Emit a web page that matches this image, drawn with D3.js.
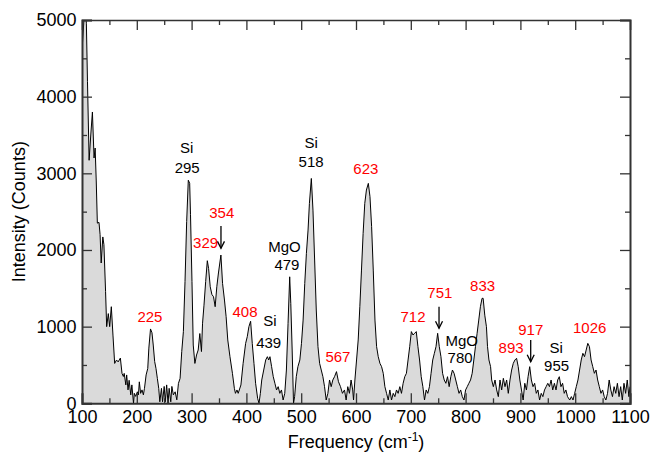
<!DOCTYPE html>
<html>
<head>
<meta charset="utf-8">
<script src="https://cdn.jsdelivr.net/npm/d3@7"></script>
<style>
  body { margin: 0; background: #fff; }
  svg text { font-family: "Liberation Sans", Arial, Helvetica, sans-serif; }
</style>
</head>
<body>
<div id="chart"></div>
<script>
// spektrum (frekvens cm-1, intensitet)
var freq = [100,104,106,108,110,113,116,119,122,124,126,128,131,133,135,138,140,143,145,148,150.5,153.5,156.5,159.6,163,166,170,173,175.5,177,180,181.5,184,186,189,191,194,195.5,198,201,203,204.6,207,209.5,212,214,217,220,222,225,227.7,230,232.6,235,237.5,240,242,245,247,250,252,254.5,257,259,262,264,266.7,270,273,276,279,282,285,288,291,294,296.5,298,300.7,303,306,309,312,315,318,320,322.6,325.7,328.7,331,334,337,340,343,346,349,353.5,356.5,360,363,366,370,374.5,378,380,382.8,385,390,394,398.6,401.6,404.6,407.7,410.7,413.8,416.8,420.5,423,425.5,428,431.6,435.2,438.3,440.7,443,446,449,452,455,458,461,464,467,470,473,476,479,481,483.5,486,488,491,494,497.5,500.5,503.5,506.5,509.5,512.5,515,518.5,521.5,524.5,527.5,530.6,533.6,536.6,539.6,542.6,545.6,548.7,551.7,554.7,557.7,560.8,564.4,568,571.7,575.3,579,582,585,588,591,594,595.5,598,601,604,607,610,613,616,619,622.5,625.5,628.5,631.5,634.6,637.6,640.6,643.7,646.7,649.7,652.7,655.8,658.8,661.8,664.8,667.9,670.9,673.9,676.9,680,683,686,689,692,695,698,701,704,707,710,713,716,719,722,725,728,731,734,737,740,743,746,749,752,755,758,761,764,767,770,773,776,779,782,785,788,791,794,797,800,803,806,809,812,815,818,821,824,827,830,832,835,838,840,842.6,845.6,847.6,850.6,853.7,856.7,859.7,862.8,865.8,868.9,871.9,874.9,877.9,881,884,887,890,893,896,899,902,905,908,911,914,917,920,923,926,929,932,935,938,941,944,947,950,953,956,959,962,965,968,971,974,977,980,983,986,990,993,996,999,1002,1005,1008,1011,1014,1017,1020,1023,1026,1029,1032,1035,1038,1041,1044,1047,1050,1053,1056,1059,1062,1065,1068,1071,1074,1077,1080,1083,1086,1089,1092,1095,1098,1100];
var counts = [4600,5050,5300,4950,4200,3170,3500,3800,3200,3330,2900,2350,2360,2200,1830,2170,2070,1460,1000,1170,1000,1260,890,520,565,540,590,390,350,390,240,370,175,300,110,240,0,130,90,150,110,280,130,175,110,195,370,455,720,970,920,760,545,455,325,195,20,195,20,220,20,240,0,195,20,220,110,150,45,260,325,675,935,1590,2370,2910,2870,2460,1590,760,520,630,695,910,675,1045,1280,1590,1860,1760,1520,1420,1390,1260,1520,1700,1934,1564,1347,1130,826,608,391,196,130,174,130,239,521,782,869,1000,1070,782,521,261,65,0,130,304,434,565,608,565,608,478,347,261,174,217,130,174,43,130,434,1043,1650,1304,695,0,87,347,478,565,782,1086,1564,1956,2260,2608,2933,2520,1869,1217,739,521,434,347,217,43,130,304,217,304,347,413,282,217,130,174,43,217,130,304,174,43,304,565,826,1260,1738,2216,2608,2782,2869,2695,2304,1738,1086,739,608,521,478,391,217,130,43,174,43,130,87,174,130,217,130,261,347,391,565,739,935,891,913,935,739,565,347,217,43,174,130,217,391,565,652,739,913,739,608,391,304,261,347,217,347,434,391,304,217,130,174,87,43,174,217,261,304,391,565,739,913,1086,1260,1369,1370,1150,999,739,565,478,304,217,304,174,87,304,174,326,217,304,130,304,434,521,565,587,478,304,174,43,261,174,347,478,304,217,261,130,174,43,130,87,174,217,261,217,304,174,261,174,304,347,217,261,130,174,87,43,87,43,130,217,304,434,565,652,608,695,782,739,565,478,391,434,304,217,130,174,87,43,130,304,174,87,217,130,261,87,217,43,261,130,304,87,217];

// toppetiketter: text, frekvens, nivå, röd?
var labelText = ["Si","295","354","329","225","MgO","479","Si","518","623","408","Si","439","567","712","751","MgO","780","833","893","917","Si","955","1026"];
var labelFreq = [291,292,355,325.5,224,469.5,474,518,518,618,397.5,443,440.7,567,704,753,793,790,831,883,919,965.5,966,1026.5];
var labelLevel = [3260,3007,2412,2021,1064,1977,1738,3329,3085,2990,1129,1008,717,542,1056,1369,747,521,1464,652,890,660,425,913];
var labelRed = [0,0,1,1,1,0,0,0,0,1,1,0,0,1,1,1,0,0,1,1,1,0,0,1];

// pilar: frekvens, från, till
var arrowFreq = [353.6,751.5,918.8];
var arrowTop = [2312,1259,825];
var arrowEnd = [2021,978,542];

var xTicks = [100,200,300,400,500,600,700,800,900,1000,1100];
var yTicks = [0,1000,2000,3000,4000,5000];

var W = 652, H = 453;
var margin = {top: 20, right: 22, bottom: 49.7, left: 82};
var width = W - margin.left - margin.right;
var height = H - margin.top - margin.bottom;

var data = freq.map(function(f, i) { return [f, counts[i]]; });

var svg = d3.select('#chart')
              .append('svg')
                .attr('width', W)
                .attr('height', H);

var g = svg.append('g')
          .attr('transform', 'translate(' + margin.left + ',' + margin.top + ')');

var x = d3.scaleLinear().domain([100, 1100]).range([0, width]);
var y = d3.scaleLinear().domain([0, 5000]).range([height, 0]);

g.append('clipPath').attr('id', 'clip')
  .append('rect').attr('width', width).attr('height', height);

var area = d3.area()
             .x(function(d) { return x(d[0]); })
             .y0(y(0))
             .y1(function(d) { return y(d[1]); });
var line = d3.line()
             .x(function(d) { return x(d[0]); })
             .y(function(d) { return y(d[1]); });

var plot = g.append('g').attr('clip-path', 'url(#clip)');
plot.append('path').datum(data)
    .attr('d', area)
    .style('fill', '#dadada');
plot.append('path').datum(data)
    .attr('d', line)
    .style('fill', 'none')
    .style('stroke', '#000')
    .style('stroke-width', 1)
    .style('stroke-linejoin', 'round');

// axlar med ticks inåt på alla fyra sidor
var xMinor = d3.range(150, 1100, 100);
var yMinor = d3.range(500, 5000, 1000);

function styleAxis(sel, w) {
  sel.select('.domain').style('stroke', '#333').style('stroke-width', w);
  sel.selectAll('.tick line').style('stroke', '#333').style('stroke-width', 1.3);
}

var axBottom = g.append('g').attr('transform', 'translate(0,' + height + ')')
  .call(d3.axisBottom(x).tickValues(xTicks).tickSize(-10).tickPadding(0).tickFormat(d3.format('d')));
axBottom.selectAll('.tick text').attr('y', 20).attr('dy', 0)
  .style('font-size', '18px').style('fill', '#000');
styleAxis(axBottom, 2);
g.append('g').attr('transform', 'translate(0,' + height + ')')
  .call(d3.axisBottom(x).tickValues(xMinor).tickSize(-5).tickFormat(''))
  .call(styleAxis, 0);

var axTop = g.append('g')
  .call(d3.axisTop(x).tickValues(xTicks).tickSize(-10).tickFormat(''));
styleAxis(axTop, 1.3);
g.append('g').call(d3.axisTop(x).tickValues(xMinor).tickSize(-5).tickFormat('')).call(styleAxis, 0);

var axLeft = g.append('g')
  .call(d3.axisLeft(y).tickValues(yTicks).tickSize(-10).tickPadding(5).tickFormat(d3.format('d')));
axLeft.selectAll('.tick text').attr('x', -5.5)
  .style('font-size', '18px').style('fill', '#000');
styleAxis(axLeft, 2);
g.append('g').call(d3.axisLeft(y).tickValues(yMinor).tickSize(-5).tickFormat('')).call(styleAxis, 0);

var axRight = g.append('g').attr('transform', 'translate(' + width + ',0)')
  .call(d3.axisRight(y).tickValues(yTicks).tickSize(-10).tickFormat(''));
styleAxis(axRight, 2);
g.append('g').attr('transform', 'translate(' + width + ',0)')
  .call(d3.axisRight(y).tickValues(yMinor).tickSize(-5).tickFormat('')).call(styleAxis, 0);

// axeltitlar
var xt = g.append('text')
  .attr('x', width / 2).attr('y', height + 45)
  .attr('text-anchor', 'middle')
  .style('font-size', '18px');
xt.append('tspan').text('Frequency (cm');
xt.append('tspan').text('-1').attr('dy', -7).style('font-size', '12px');
xt.append('tspan').text(')').attr('dy', 7);

g.append('text')
  .attr('transform', 'translate(' + (-57) + ',' + (height / 2) + ') rotate(-90)')
  .attr('text-anchor', 'middle')
  .style('font-size', '18px')
  .text('Intensity (Counts)');

// etiketter
g.selectAll('.lbl')
  .data(labelText).enter()
    .append('text')
      .attr('class', 'lbl')
      .attr('x', function(d, i) { return x(labelFreq[i]); })
      .attr('y', function(d, i) { return y(labelLevel[i]); })
      .attr('text-anchor', 'middle')
      .style('font-size', '15px')
      .style('fill', function(d, i) { return labelRed[i] ? '#ff0000' : '#000'; })
      .text(function(d) { return d; });

// pilar
var arrows = g.selectAll('.arrow')
  .data(arrowFreq).enter()
    .append('g').attr('class', 'arrow');
arrows.append('line')
  .attr('x1', function(d) { return x(d); })
  .attr('x2', function(d) { return x(d); })
  .attr('y1', function(d, i) { return y(arrowTop[i]); })
  .attr('y2', function(d, i) { return y(arrowEnd[i]); })
  .style('stroke', '#000').style('stroke-width', 1.3);
arrows.append('path')
  .attr('d', function(d, i) {
    var ax = x(d), ay = y(arrowEnd[i]);
    return 'M' + (ax - 3.5) + ',' + (ay - 7) + 'L' + ax + ',' + ay + 'L' + (ax + 3.5) + ',' + (ay - 7);
  })
  .style('fill', 'none').style('stroke', '#000').style('stroke-width', 1.3);
</script>
</body>
</html>
